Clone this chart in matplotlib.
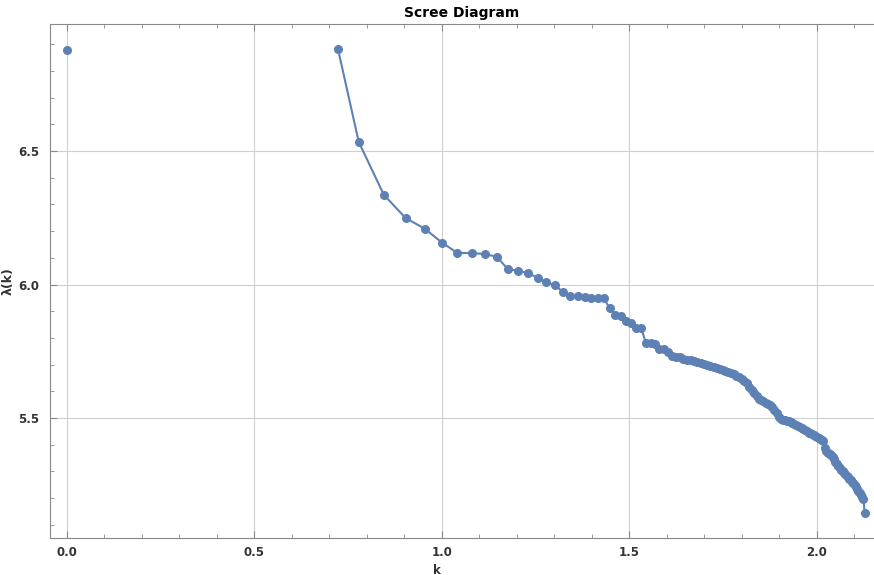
import numpy as np
import matplotlib.pyplot as plt
from matplotlib.ticker import MultipleLocator

# isolated point at log k = 0
x0 = [0.0]
y0 = [6.88]

# connected series: first point, then log10 of k = 6..134
x_first = 0.723
k = list(range(6, 135))
lam = [6.881,
       6.534, 6.336, 6.249, 6.209, 6.157, 6.118, 6.118, 6.114, 6.104, 6.057,
       6.052, 6.042, 6.026, 6.008, 5.998, 5.972, 5.958, 5.958, 5.954, 5.949,
       5.949, 5.949, 5.911, 5.885, 5.883, 5.863, 5.855, 5.836, 5.836, 5.780,
       5.780, 5.776, 5.760, 5.757, 5.748, 5.732, 5.730, 5.728, 5.721, 5.719,
       5.716, 5.712, 5.710, 5.706, 5.701, 5.698, 5.694, 5.690, 5.686, 5.682,
       5.679, 5.676, 5.672, 5.668, 5.664, 5.658, 5.652, 5.645, 5.638, 5.630,
       5.618, 5.605, 5.594, 5.582, 5.570, 5.566, 5.562, 5.557, 5.552, 5.548,
       5.540, 5.530, 5.518, 5.505, 5.495, 5.493, 5.491, 5.489, 5.488, 5.486,
       5.482, 5.478, 5.475, 5.471, 5.467, 5.463, 5.459, 5.454, 5.450, 5.445,
       5.442, 5.439, 5.436, 5.433, 5.430, 5.427, 5.423, 5.419, 5.415, 5.387,
       5.376, 5.370, 5.366, 5.362, 5.355, 5.346, 5.336, 5.327, 5.320, 5.312,
       5.306, 5.300, 5.294, 5.289, 5.283, 5.278, 5.272, 5.266, 5.261, 5.255,
       5.248, 5.241, 5.234, 5.227, 5.220, 5.212, 5.204, 5.196, 5.145]

xs = np.concatenate([[x_first], np.log10(k)])

col = '#5E81B5'
fig = plt.figure(figsize=(8.74, 5.75), dpi=100)
ax = fig.add_axes([50/874, 1-538/575, 1-50/874, (538-24)/575])

ax.plot(x0, y0, 'o', color=col, ms=5.5, zorder=3)
ax.plot(xs, lam, '-o', color=col, lw=1.5, ms=5.5, zorder=3)

ax.set_xlim(-0.045, 2.152)
ax.set_ylim(5.0506, 6.9757)
ax.xaxis.set_major_locator(MultipleLocator(0.5))
ax.xaxis.set_minor_locator(MultipleLocator(0.1))
ax.yaxis.set_major_locator(MultipleLocator(0.5))
ax.yaxis.set_minor_locator(MultipleLocator(0.1))
ax.grid(True, which='major', color='#cfcfcf', lw=0.8)
ax.set_axisbelow(True)

for s in ['left', 'bottom', 'top']:
    ax.spines[s].set_color('#888888')
ax.spines['right'].set_visible(False)
ax.tick_params(which='both', direction='in', top=True, right=False,
               color='#888888', labelsize=8.5, labelcolor='#333333')
ax.tick_params(which='major', length=5)
ax.tick_params(axis='x', which='major', pad=6)
ax.tick_params(axis='y', which='major', pad=8)
ax.tick_params(which='minor', length=3)
for lab in ax.get_xticklabels() + ax.get_yticklabels():
    lab.set_fontweight('bold')

ax.set_title('Scree Diagram', fontsize=10, fontweight='bold', pad=5)
ax.set_xlabel('k', fontsize=8.5, fontweight='bold', color='#333333')
ax.set_ylabel('λ(k)', fontsize=9, fontweight='bold', color='#333333', labelpad=2)
ax.xaxis.set_label_coords(0.47, -0.05)

fig.savefig('out.png', dpi=100)
